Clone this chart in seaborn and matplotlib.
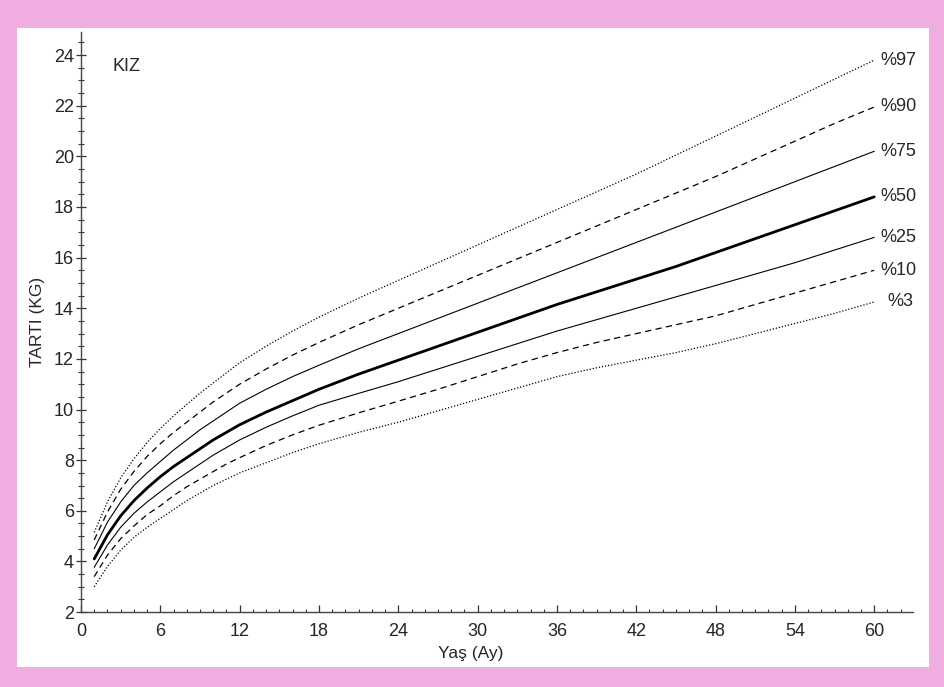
import matplotlib
matplotlib.use("Agg")
import matplotlib.pyplot as plt
import matplotlib.patches as mpatches
from matplotlib.ticker import MultipleLocator
import seaborn as sns
import pandas as pd

# ---- data ----
months = [1, 2, 3, 4, 5, 6, 7, 8, 9, 10, 11, 12, 14, 16, 18, 21, 24, 27, 30,
          33, 36, 39, 42, 45, 48, 51, 54, 57, 60]
p97 = [5.15, 6.35, 7.3, 8.05, 8.7, 9.25, 9.75, 10.2, 10.65, 11.05, 11.45, 11.85,
       12.5, 13.1, 13.65, 14.4, 15.1, 15.8, 16.5, 17.2, 17.9, 18.6, 19.3, 20.05,
       20.8, 21.55, 22.3, 23.05, 23.8]
p90 = [4.85, 5.95, 6.85, 7.55, 8.15, 8.65, 9.1, 9.5, 9.9, 10.3, 10.65, 11.0,
       11.6, 12.15, 12.65, 13.35, 14.0, 14.65, 15.3, 15.95, 16.6, 17.25, 17.9,
       18.55, 19.2, 19.9, 20.6, 21.3, 21.95]
p75 = [4.5, 5.55, 6.35, 7.0, 7.5, 7.95, 8.4, 8.8, 9.2, 9.55, 9.9, 10.25,
       10.8, 11.3, 11.75, 12.4, 13.0, 13.6, 14.2, 14.8, 15.4, 16.0, 16.6,
       17.2, 17.8, 18.4, 19.0, 19.6, 20.2]
p50 = [4.1, 5.05, 5.8, 6.4, 6.9, 7.35, 7.75, 8.1, 8.45, 8.8, 9.1, 9.4,
       9.9, 10.35, 10.8, 11.4, 11.95, 12.5, 13.05, 13.6, 14.15, 14.65, 15.15,
       15.65, 16.2, 16.75, 17.3, 17.85, 18.4]
p25 = [3.77, 4.65, 5.35, 5.9, 6.35, 6.75, 7.15, 7.5, 7.85, 8.2, 8.5, 8.8,
       9.3, 9.75, 10.17, 10.64, 11.1, 11.6, 12.1, 12.6, 13.1, 13.55, 14.0,
       14.45, 14.9, 15.35, 15.8, 16.3, 16.8]
p10 = [3.4, 4.25, 4.9, 5.4, 5.85, 6.2, 6.6, 6.95, 7.25, 7.55, 7.85, 8.1,
       8.58, 9.0, 9.38, 9.87, 10.33, 10.8, 11.3, 11.8, 12.25, 12.65, 13.0,
       13.35, 13.7, 14.15, 14.6, 15.05, 15.5]
p3 = [3.0, 3.8, 4.45, 4.95, 5.35, 5.7, 6.05, 6.4, 6.7, 7.0, 7.25, 7.5,
      7.9, 8.3, 8.65, 9.1, 9.5, 9.95, 10.4, 10.85, 11.3, 11.65, 11.95,
      12.25, 12.6, 13.0, 13.4, 13.8, 14.25]

series_names = ["%97", "%90", "%75", "%50", "%25", "%10", "%3"]
series_values = [p97, p90, p75, p50, p25, p10, p3]

x_ticks = [0, 6, 12, 18, 24, 30, 36, 42, 48, 54, 60]
y_ticks = [2, 4, 6, 8, 10, 12, 14, 16, 18, 20, 22, 24]

# ---- style ----
sns.set_style("ticks")
plt.rcParams["font.family"] = ["Liberation Sans", "DejaVu Sans"]

PINK = "#EFAEDF"
fig = plt.figure(figsize=(9.45, 6.87), dpi=100, facecolor=PINK)
panel = mpatches.Rectangle((0.018, 0.029), 0.965, 0.930,
                           transform=fig.transFigure,
                           facecolor="white", edgecolor="none", zorder=-10)
fig.patches.append(panel)
ax = fig.add_axes([0.0857, 0.109, 0.880, 0.844])
ax.set_facecolor("none")
ax.set_zorder(5)

styles = {
    "%97": dict(lw=0.9, dashes=(1, 1.5)),
    "%90": dict(lw=0.9, dashes=(5, 3.5)),
    "%75": dict(lw=0.8, dashes=None),
    "%50": dict(lw=2.0, dashes=None),
    "%25": dict(lw=0.8, dashes=None),
    "%10": dict(lw=0.9, dashes=(5, 3.5)),
    "%3": dict(lw=0.9, dashes=(1, 1.5)),
}

for name, vals in zip(series_names, series_values):
    df = pd.DataFrame({"Ay": months, "KG": vals})
    st = styles[name]
    sns.lineplot(data=df, x="Ay", y="KG", ax=ax, color="black",
                 linewidth=st["lw"], legend=False)
    l = ax.lines[-1]
    if st["dashes"] is not None:
        l.set_dashes(st["dashes"])
    xoff = 61.0 if name == "%3" else 60.45
    ax.text(xoff, vals[-1], name, ha="left", va="center", fontsize=13)

ax.text(2.4, 23.55, "KIZ", ha="left", va="center", fontsize=13)

ax.set_xlim(0, 62.9)
ax.set_ylim(2, 24.9)
ax.set_xticks(x_ticks)
ax.set_yticks(y_ticks)
ax.xaxis.set_minor_locator(MultipleLocator(1))
ax.yaxis.set_minor_locator(MultipleLocator(0.5))

for s in ["top", "right"]:
    ax.spines[s].set_visible(False)
for s in ["left", "bottom"]:
    ax.spines[s].set_color("#444444")
    ax.spines[s].set_linewidth(1.0)

ax.tick_params(axis="x", which="major", direction="in", length=5, width=0.9,
               color="#333333", labelsize=13, pad=8)
ax.tick_params(axis="x", which="minor", direction="in", length=2.5, width=0.8,
               color="#333333")
ax.tick_params(axis="y", which="major", direction="inout", length=7, width=0.9,
               color="#333333", labelsize=13, pad=1.5)
ax.tick_params(axis="y", which="minor", direction="inout", length=4, width=0.8,
               color="#333333")

ax.set_xlabel("Yaş (Ay)", fontsize=12.5)
ax.set_ylabel("TARTI (KG)", fontsize=12.5)
ax.xaxis.set_label_coords((471 - 81) / 832, -0.058)
ax.yaxis.set_label_coords(-0.043, 0.5)

fig.savefig("out.png", dpi=100, facecolor=PINK)
